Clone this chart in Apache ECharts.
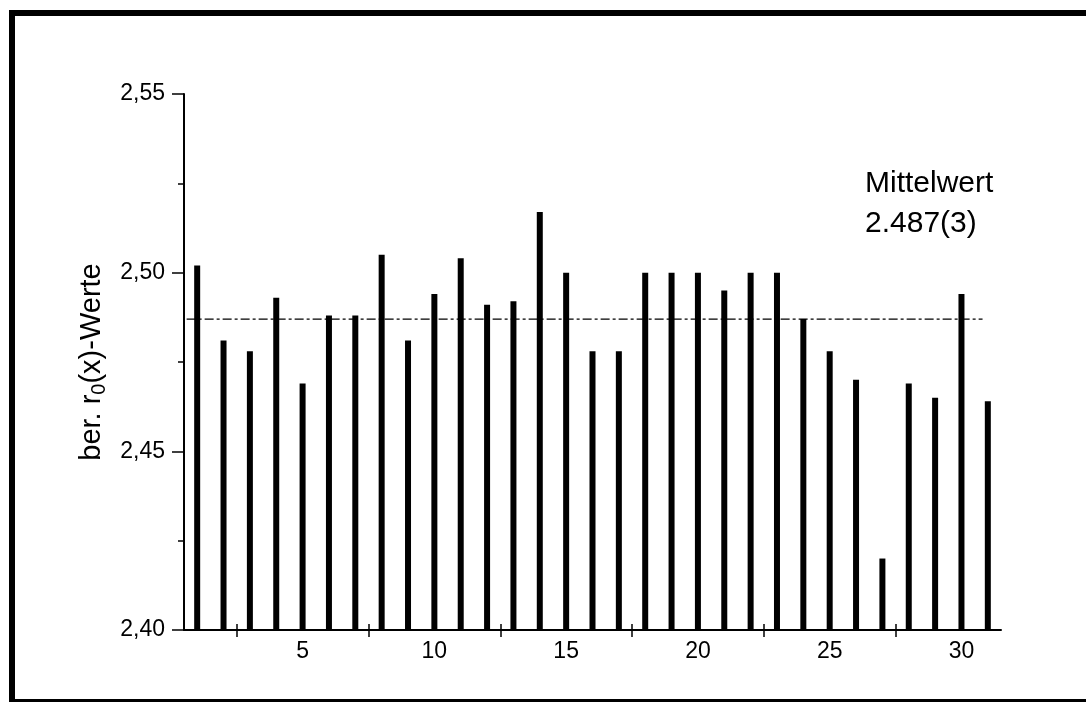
<!DOCTYPE html>
<html>
<head>
<meta charset="utf-8">
<script src="https://cdn.jsdelivr.net/npm/echarts@6/dist/echarts.min.js"></script>
<style>
  html, body { margin: 0; padding: 0; background: #fff; }
  #chart { width: 1086px; height: 702px; }
</style>
</head>
<body>
<div id="chart"></div>
<script>
  // Messpunkte 1..31
  var punkte = [1, 2, 3, 4, 5, 6, 7, 8, 9, 10, 11, 12, 13, 14, 15, 16,
                17, 18, 19, 20, 21, 22, 23, 24, 25, 26, 27, 28, 29, 30, 31];
  var r0Werte = [2.502, 2.481, 2.478, 2.493, 2.469, 2.488, 2.488, 2.505, 2.481, 2.494,
                 2.504, 2.491, 2.492, 2.517, 2.500, 2.478, 2.478, 2.500, 2.500, 2.500,
                 2.495, 2.500, 2.500, 2.487, 2.478, 2.470, 2.420, 2.469, 2.465, 2.494,
                 2.464];
  var mittelwert = 2.487;
  var mittelwertVon = 0.6;
  var mittelwertBis = 30.8;
  var xTicks = [2.5, 7.5, 12.5, 17.5, 22.5, 27.5];
  var xLabels = [5, 10, 15, 20, 25, 30];

  var myChart = echarts.init(document.getElementById('chart'));

  var barData = punkte.map(function (p, i) { return [p, r0Werte[i]]; });

  var option = {
    animation: false,
    backgroundColor: '#fff',
    textStyle: { fontFamily: 'Liberation Sans, Arial, sans-serif' },
    grid: { left: 184, right: 85, top: 94, bottom: 72 },
    graphic: [
      {
        type: 'rect',
        shape: { x: 12, y: 13, width: 1200, height: 689 },
        style: { fill: 'none', stroke: '#000', lineWidth: 6 },
        silent: true
      },
      {
        type: 'text',
        left: 865,
        top: 164,
        style: {
          text: 'Mittelwert\n2.487(3)',
          fontSize: 30,
          lineHeight: 40,
          fill: '#000',
          fontFamily: 'Liberation Sans, Arial, sans-serif'
        }
      }
    ],
    xAxis: [
      {
        type: 'value',
        min: 0.5,
        max: 31.5,
        splitLine: { show: false },
        axisLine: { onZero: false, lineStyle: { color: '#000', width: 2 } },
        axisTick: { show: true, length: 7, customValues: xTicks, lineStyle: { color: '#000', width: 1.5 } },
        axisLabel: { customValues: xLabels, color: '#000', fontSize: 23, margin: 10 }
      },
      {
        type: 'value',
        position: 'bottom',
        min: 0.5,
        max: 31.5,
        splitLine: { show: false },
        axisLine: { show: false, onZero: false },
        axisTick: { show: true, inside: true, length: 6, customValues: xTicks, lineStyle: { color: '#000', width: 1.5 } },
        axisLabel: { show: false }
      }
    ],
    yAxis: {
      type: 'value',
      min: 2.40,
      max: 2.55,
      interval: 0.05,
      name: 'ber. r{sub|0}(x)-Werte',
      nameLocation: 'middle',
      nameGap: 66,
      nameTextStyle: {
        fontSize: 29,
        color: '#000',
        rich: {
          sub: { fontSize: 20, verticalAlign: 'bottom', padding: [14, 0, 0, 0] }
        }
      },
      splitLine: { show: false },
      axisLine: { show: true, lineStyle: { color: '#000', width: 2 } },
      axisTick: { show: true, length: 12, lineStyle: { color: '#000', width: 1.5 } },
      minorTick: { show: true, splitNumber: 2, length: 6, lineStyle: { color: '#000', width: 1.5 } },
      axisLabel: {
        color: '#000',
        fontSize: 23,
        margin: 19,
        formatter: function (v) { return v.toFixed(2).replace('.', ','); }
      }
    },
    series: [
      {
        name: 'r0',
        type: 'bar',
        data: barData,
        barWidth: 6,
        itemStyle: { color: '#000' }
      },
      {
        name: 'Mittelwert',
        type: 'line',
        data: [[mittelwertVon, mittelwert], [mittelwertBis, mittelwert]],
        symbol: 'none',
        lineStyle: { color: '#000', width: 1.2, type: [9, 3, 3, 3] }
      }
    ]
  };
  myChart.setOption(option);
</script>
</body>
</html>
